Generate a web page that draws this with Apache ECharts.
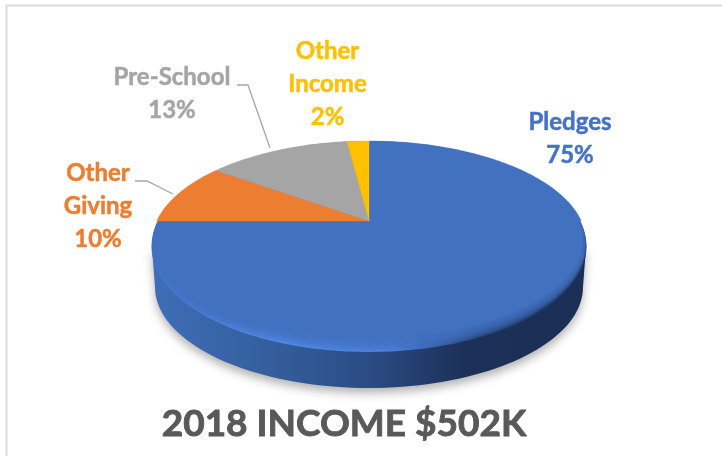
<!DOCTYPE html>
<html>
<head>
<meta charset="utf-8">
<style>html,body{margin:0;padding:0;background:#fff}#c{width:722px;height:456px}</style>
<script src="https://cdn.jsdelivr.net/npm/echarts@6/dist/echarts.min.js"></script>
</head>
<body>
<div id="c"></div>
<script>
const categories = ['Pledges', 'Other\nGiving', 'Pre-School', 'Other\nIncome'];
const shares = [75, 10, 13, 2];
const colors = ['#4271C0', '#ED7D31', '#A5A5A5', '#FFC000'];
const chartTitle = '2018 INCOME $502K';

const FONT = 'Lato';
const labelCentres = [[570, 139], [98, 206], [172, 94], [327.5, 84.5]];
const leaders = [null, [[135, 181], [147, 181], [173, 194]], [[237, 85], [248, 85], [270, 148]], null];

// perspective disc: apex of the slices sits above the ellipse's centre
const CX = 369, AY = 221, RX = 212.3, RY = 96.6, K = -0.208;
function project(a) {
  const u = Math.sin(a), v = -Math.cos(a), d = 1 + K * v;
  return [CX + RX * u / d, AY + RY * v / d];
}
function ellipsePts(cx, cy, rx, ry, a0, a1, n) {
  const p = [];
  for (let i = 0; i <= n; i++) {
    const a = a0 + (a1 - a0) * i / n;
    p.push([cx + rx * Math.cos(a), cy + ry * Math.sin(a)]);
  }
  return p;
}
const total = shares.reduce((s, v) => s + v, 0);

function renderBase(params, api) {
  const bottom = { cy: 287, rx: 214, ry: 101 };
  const wall = [[152, 248]].concat(ellipsePts(CX, bottom.cy, bottom.rx, bottom.ry, Math.PI, 0, 80)).concat([[586, 248]]);
  const children = [
    {
      type: 'polygon',
      shape: { points: wall },
      style: {
        fill: new echarts.graphic.LinearGradient(0, 0, 1, 0, [
          { offset: 0, color: '#3F6DB8' },
          { offset: 0.25, color: '#35609F' },
          { offset: 0.5, color: '#2B4C85' },
          { offset: 0.72, color: '#1C3059' },
          { offset: 1, color: '#1B2E55' }
        ]),
        shadowBlur: 10,
        shadowColor: 'rgba(0,0,0,0.3)',
        shadowOffsetY: 5,
        shadowOffsetX: 0
      }
    },
    {
      type: 'ellipse',
      shape: { cx: CX, cy: 246.5, rx: 217.5, ry: 105.5 },
      style: {
        fill: new echarts.graphic.LinearGradient(0, 0, 1, 0, [
          { offset: 0, color: '#4274C6' },
          { offset: 0.3, color: '#5088E6' },
          { offset: 0.55, color: '#4A80DC' },
          { offset: 0.75, color: '#2A4A85' },
          { offset: 1, color: '#1C3059' }
        ])
      }
    }
  ];
  // soft bevel between rim and face
  for (let s = 1; s <= 6; s++) {
    const t = s / 6;
    children.push({
      type: 'ellipse',
      shape: { cx: CX, cy: 246.5 - 4.5 * t, rx: 217.5 - 1.2 * t, ry: 105.5 - 7.5 * t },
      style: { fill: colors[0], opacity: 0.3 }
    });
  }
  return { type: 'group', children };
}

function renderSlice(params, api) {
  const i = params.dataIndex;
  let before = 0;
  for (let j = 0; j < i; j++) before += shares[j];
  const a0 = before / total * Math.PI * 2;
  const a1 = (before + api.value(0)) / total * Math.PI * 2;
  const pts = [[CX, AY]];
  const n = Math.max(6, Math.round((a1 - a0) * 60));
  for (let s = 0; s <= n; s++) pts.push(project(a0 + (a1 - a0) * s / n));
  const c = api.visual('color');
  // the lower edge of the large slice is pulled in slightly so the bevel layers show around it
  const facePts = i === 0
    ? pts.map(p => p[1] < AY ? p : [CX + (p[0] - CX) * 0.985, AY + (p[1] - AY) * 0.96])
    : pts;
  const children = [{
    type: 'polygon',
    shape: { points: facePts },
    style: { fill: c, stroke: c, lineWidth: 0.4 }
  }];
  if (leaders[i]) {
    children.push({
      type: 'polyline',
      shape: { points: leaders[i] },
      style: { stroke: '#A6A6A6', lineWidth: 1.3, fill: 'none' }
    });
  }
  children.push({
    type: 'text',
    x: labelCentres[i][0],
    y: labelCentres[i][1],
    style: {
      text: categories[i] + '\n' + api.value(0) + '%',
      fill: i === 0 ? '#4472C4' : c,
      stroke: i === 0 ? '#4472C4' : c,
      lineWidth: 0.5,
      font: 'bold 24px ' + FONT,
      lineHeight: 33,
      align: 'center',
      verticalAlign: 'middle'
    }
  });
  return { type: 'group', children };
}

const chart = echarts.init(document.getElementById('c'), null, { renderer: 'canvas' });
chart.setOption({
  animation: false,
  backgroundColor: '#fff',
  color: colors,
  title: {
    text: chartTitle,
    left: 339,
    top: 401,
    textAlign: 'center',
    textStyle: { fontFamily: FONT, fontSize: 37, fontWeight: 'bold', color: '#595959', textBorderColor: '#595959', textBorderWidth: 0.9 }
  },
  graphic: [
    { type: 'polyline', shape: { points: [[722, 5.5], [6.5, 5.5], [6.5, 456]] }, style: { stroke: '#DCDCDC', lineWidth: 2, fill: 'none' } }
  ],
  series: [
    { type: 'custom', coordinateSystem: 'none', silent: true, data: [[1]], renderItem: renderBase, z: 1 },
    {
      type: 'custom',
      coordinateSystem: 'none',
      silent: true,
      z: 2,
      colorBy: 'data',
      data: shares.map((v, i) => ({ name: categories[i], value: [v], itemStyle: { color: colors[i] } })),
      renderItem: renderSlice
    }
  ]
});
</script>
</body>
</html>
